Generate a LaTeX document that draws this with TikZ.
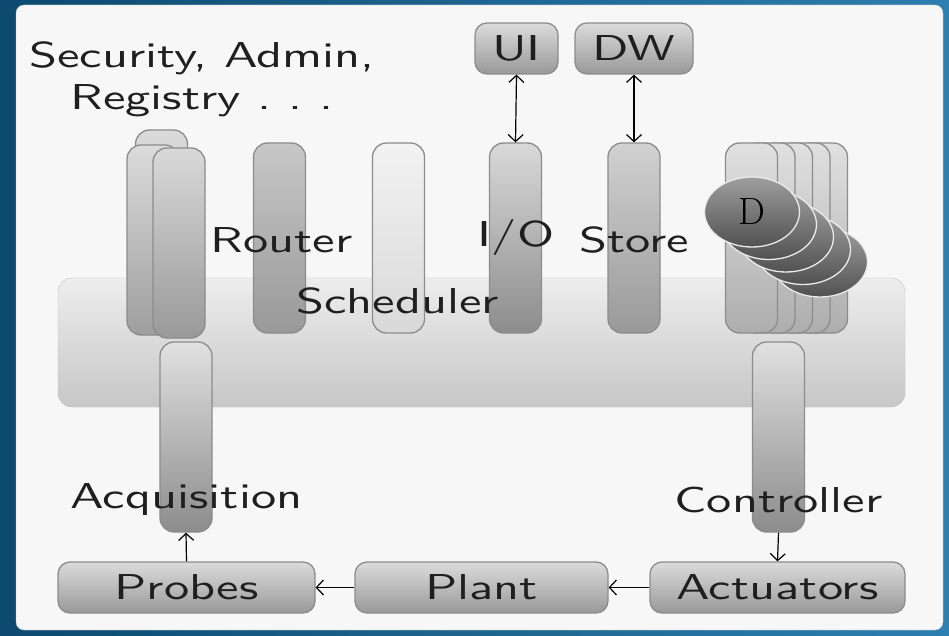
\documentclass[tikz,border=0pt]{standalone}
\usepackage{fontspec}
\setsansfont{lmsans10-regular.otf}[FakeStretch=1.4]
\usepackage{tikz}
\usetikzlibrary{positioning, arrows.meta, shapes.geometric, backgrounds}
\definecolor{bgdark}{RGB}{12,74,111}
\definecolor{bglight}{RGB}{45,127,176}
\definecolor{paper}{RGB}{247,247,247}
\newcommand\lblfont{\sffamily\fontsize{36}{42}\selectfont\color{black!88}}
\tikzset{
  pillar/.style={draw=black!45, line width=1.3pt, rounded corners=14pt, top color=black!15, bottom color=black!40,
                 minimum width=52pt, minimum height=190pt, inner sep=0pt},
  box/.style={draw=black!45, line width=1.3pt, rounded corners=12pt, top color=black!14, bottom color=black!40,
              minimum height=51pt, inner sep=0pt, font=\lblfont},
  disk/.style={ellipse, draw=black!8, line width=1.3pt, top color=black!38, bottom color=black!68,
               minimum width=95pt, minimum height=70pt, inner sep=0pt},
  band/.style={draw=black!25, rounded corners=14pt, top color=black!7, bottom color=black!22,
               minimum width=847pt, minimum height=129pt},
  lbl/.style={font=\lblfont, inner sep=0pt, anchor=base},
  link/.style={-{Straight Barb[length=7pt,width=15pt]}, line width=1.2pt},
  both/.style={{Straight Barb[length=7pt,width=15pt]}-{Straight Barb[length=7pt,width=15pt]}, line width=1.2pt}
}
\begin{document}
\begin{tikzpicture}[x=1pt, y=-1pt]
  \useasboundingbox (0,0) rectangle (949,636);
  % slide
  \shade[left color=bgdark, right color=bglight] (0,0) rectangle (949,636);
  \fill[paper, draw=black!25, rounded corners=8pt] (16,5) rectangle (943,630);
  % middleware band
  \node[band] (band) at (481.5,342.5) {};
  % service pillars
  \node[pillar, top color=black!14, bottom color=black!36] (secC) at (161.5,225) {};
  \node[pillar, top color=black!14, bottom color=black!38] (secB) at (153,240) {};
  \node[pillar, top color=black!15, bottom color=black!40] (secA) at (179,243) {};
  \node[pillar, top color=black!22, bottom color=black!40] (router) at (279.5,238) {};
  \node[pillar, top color=black!5, bottom color=black!15] (schedp) at (398.5,238) {};
  \node[pillar, top color=black!15, bottom color=black!45] (io) at (515.5,238) {};
  \node[pillar, top color=black!18, bottom color=black!40] (store) at (634,238) {};
  \foreach \i in {4,3,2,1,0}
    \node[pillar, top color=black!12, bottom color=black!32] (dp\i) at ({751.5+17.5*\i},238) {};
  % drivers
  \foreach \i in {4,3,2,1}
    \node[disk] (d\i) at ({752+17*\i},{212+12.5*\i}) {};
  \node[disk, font=\rmfamily\fontsize{38}{42}\selectfont] (d0) at (752,212) {D};
  % loop pillars
  \node[pillar, top color=black!12, bottom color=black!45] (acq) at (186,437) {};
  \node[pillar, top color=black!12, bottom color=black!45] (ctrl) at (778.5,437) {};
  % outer boxes
  \node[box, minimum width=83pt] (ui) at (516.5,48.5) {UI};
  \node[box, minimum width=118pt] (dw) at (634,48.5) {DW};
  \node[box, minimum width=257pt] (probes) at (186.5,587.5) {Probes};
  \node[box, minimum width=253pt] (plant) at (481.5,587.5) {Plant};
  \node[box, minimum width=255pt] (actuators) at (777.5,587.5) {Actuators};
  % labels
  \node[lbl, align=center] (sec) at (202,110) {Security, Admin,\\Registry .~.~.};
  \node[lbl] (routerl) at (281.5,252) {Router};
  \node[lbl] (schedl) at (397.5,313) {Scheduler};
  \node[lbl] (iol) at (516,247) {I/O};
  \node[lbl] (storel) at (634.5,252) {Store};
  \node[lbl] (acql) at (186.5,508) {Acquisition};
  \node[lbl] (ctrll) at (778.5,512) {Controller};
  % flows
  \draw[both] (ui.south) -- (io.north);
  \draw[both] (dw.south) -- (store.north);
  \draw[link] (probes.north) -- (acq.south);
  \draw[link] (plant.west) -- (probes.east);
  \draw[link] (actuators.west) -- (plant.east);
  \draw[link] (ctrl.south) -- (actuators.north);
\end{tikzpicture}
\end{document}
